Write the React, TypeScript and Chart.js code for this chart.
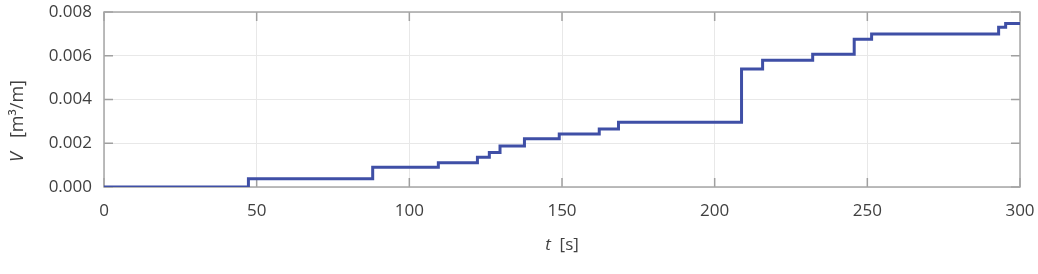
import { useEffect, useRef } from 'react';
import { Chart, registerables } from 'chart.js';
Chart.register(...registerables);

const times = [0, 47.3, 88, 109.5, 122.3, 126.2, 129.7, 137.7, 149.1, 162.2, 168.5, 208.8, 215.7, 232.1, 245.7, 251.4, 293, 295.3, 300];
const volumes = [0, 0.00038, 0.0009, 0.00111, 0.00136, 0.00158, 0.00187, 0.00221, 0.00242, 0.00265, 0.00296, 0.0054, 0.00579, 0.00607, 0.00675, 0.007, 0.0073, 0.00747, 0.00747];
const xTicks = [0, 50, 100, 150, 200, 250, 300];
const yTicks = [0, 0.002, 0.004, 0.006, 0.008];
const xTitle = [{ text: 't', italic: true }, { text: '  [s]', italic: false }];
const yTitle = [{ text: 'V', italic: true }, { text: '   [m³/m]', italic: false }];

const FONT = '"Open Sans", sans-serif';
const TEXT = '#404040';

function drawMixed(ctx: CanvasRenderingContext2D, parts: { text: string; italic: boolean }[], size: number) {
  const fonts = parts.map((p) => `${p.italic ? 'italic ' : ''}${size}px ${FONT}`);
  const widths = parts.map((p, i) => {
    ctx.font = fonts[i];
    return ctx.measureText(p.text).width;
  });
  const total = widths.reduce((a, b) => a + b, 0);
  let x = -total / 2;
  ctx.textBaseline = 'middle';
  ctx.textAlign = 'left';
  ctx.fillStyle = TEXT;
  parts.forEach((p, i) => {
    ctx.font = fonts[i];
    ctx.fillText(p.text, x, 0);
    x += widths[i];
  });
}

export default function App() {
  const ref = useRef<HTMLCanvasElement>(null);
  useEffect(() => {
    document.body.style.margin = '0';
    const frame = {
      id: 'frame',
      beforeDatasetsDraw(chart: any) {
        const { ctx, chartArea } = chart;
        const { left, right, top, bottom } = chartArea;
        const xs = chart.scales.x;
        const ys = chart.scales.y;
        ctx.save();
        ctx.strokeStyle = '#a0a0a0';
        ctx.lineWidth = 1.5;
        const tl = 9;
        xTicks.forEach((v) => {
          const px = xs.getPixelForValue(v);
          ctx.beginPath();
          ctx.moveTo(px, bottom);
          ctx.lineTo(px, bottom - tl);
          ctx.moveTo(px, top);
          ctx.lineTo(px, top + tl);
          ctx.stroke();
        });
        yTicks.forEach((v) => {
          const py = ys.getPixelForValue(v);
          ctx.beginPath();
          ctx.moveTo(left, py);
          ctx.lineTo(left + tl, py);
          ctx.moveTo(right, py);
          ctx.lineTo(right - tl, py);
          ctx.stroke();
        });
        ctx.strokeStyle = '#a6a6a6';
        ctx.lineWidth = 1.5;
        ctx.strokeRect(left, top, right - left, bottom - top);
        ctx.restore();
      },
      afterDraw(chart: any) {
        const { ctx, chartArea } = chart;
        const cx = (chartArea.left + chartArea.right) / 2;
        ctx.save();
        ctx.translate(cx, 245);
        drawMixed(ctx, xTitle, 17);
        ctx.restore();
        ctx.save();
        ctx.translate(18, 121);
        ctx.rotate(-Math.PI / 2);
        drawMixed(ctx, yTitle, 18);
        ctx.restore();
      },
    };
    const chart = new Chart(ref.current!, {
      type: 'line',
      data: {
        datasets: [
          {
            data: times.map((t, i) => ({ x: t, y: volumes[i] })),
            stepped: 'before',
            borderColor: '#3f4fa6',
            borderWidth: 3,
            pointRadius: 0,
            fill: false,
          },
        ],
      },
      options: {
        animation: false,
        responsive: true,
        maintainAspectRatio: false,
        layout: { padding: { top: 12, right: 18, left: 0, bottom: 0 } },
        plugins: { legend: { display: false }, tooltip: { enabled: false } },
        scales: {
          x: {
            type: 'linear',
            min: 0,
            max: 300,
            afterFit: (s: any) => {
              s.height = 87;
              s.paddingLeft = 0;
              s.paddingRight = 0;
            },
            afterBuildTicks: (s: any) => {
              s.ticks = xTicks.map((v) => ({ value: v }));
            },
            ticks: { color: TEXT, font: { family: FONT, size: 17 }, padding: 14, maxRotation: 0 },
            grid: { color: '#e8e8e8', lineWidth: 1, drawTicks: false },
            border: { display: false },
          },
          y: {
            min: 0,
            max: 0.008,
            afterFit: (s: any) => {
              s.width = 104;
              s.paddingTop = 0;
              s.paddingBottom = 0;
            },
            afterBuildTicks: (s: any) => {
              s.ticks = yTicks.map((v) => ({ value: v }));
            },
            ticks: {
              color: TEXT,
              font: { family: FONT, size: 17 },
              padding: 12,
              callback: (v: any) => Number(v).toFixed(3),
            },
            grid: { color: '#e8e8e8', lineWidth: 1, drawTicks: false },
            border: { display: false },
          },
        },
      },
      plugins: [frame],
    });
    return () => chart.destroy();
  }, []);
  return (
    <div style={{ width: 1038, height: 274, position: 'relative' }}>
      <canvas ref={ref} />
    </div>
  );
}
